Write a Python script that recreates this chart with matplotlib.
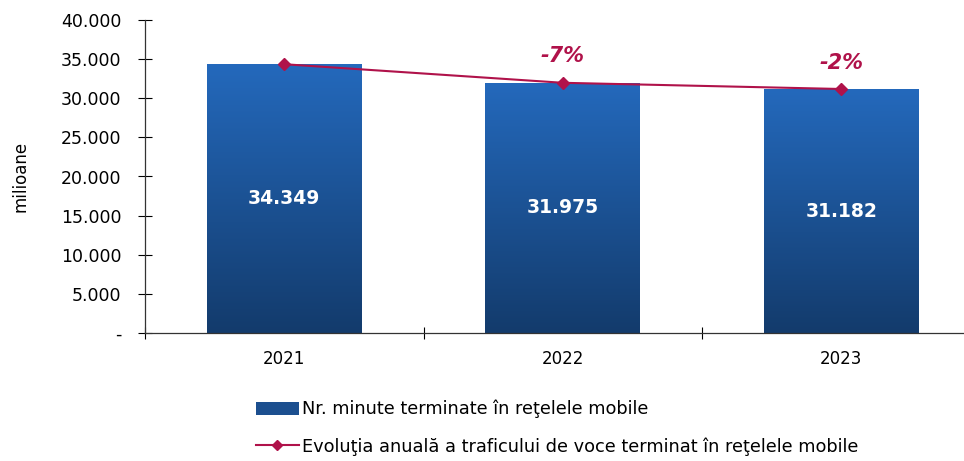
import numpy as np
import matplotlib.pyplot as plt
from matplotlib.patches import Rectangle, Patch
from matplotlib.lines import Line2D
from matplotlib.colors import LinearSegmentedColormap
from matplotlib.ticker import FuncFormatter

years = ["2021", "2022", "2023"]
minute = [34349, 31975, 31182]
value_labels = ["34.349", "31.975", "31.182"]
pct_labels = ["", "-7%", "-2%"]

bar_label = "Nr. minute terminate în reţelele mobile"
line_label = "Evoluţia anuală a traficului de voce terminat în reţelele mobile"

line_color = "#B0124A"
grad = LinearSegmentedColormap.from_list("g", ["#133B6C", "#2469BC"])

plt.rcParams['font.family'] = ['DejaVu Sans']

fig = plt.figure(figsize=(9.64, 4.61), dpi=100)
ax = fig.add_axes([145 / 964, 1 - 333 / 461, 835.5 / 964, 313 / 461])

x = np.arange(len(years))
width = 0.556
bars = ax.bar(x, minute, width=width, color="none", edgecolor="none", zorder=2)

# gradient fill for each bar
g = np.linspace(0, 1, 256).reshape(-1, 1)
for b in bars:
    x0, y0 = b.get_x(), b.get_y()
    w, h = b.get_width(), b.get_height()
    im = ax.imshow(g, cmap=grad, aspect="auto", origin="lower",
                   extent=[x0, x0 + w, y0, y0 + h], zorder=2)
    clip = Rectangle((x0, y0), w, h, transform=ax.transData)
    im.set_clip_path(clip)

for i, v in enumerate(minute):
    ax.text(x[i], v / 2, value_labels[i], color="white", fontsize=13.5,
            fontweight="bold", ha="center", va="center", zorder=4)

ax.plot(x, minute, color=line_color, lw=1.5, marker="D", markersize=6, zorder=3)

for i, lab in enumerate(pct_labels):
    if lab:
        ax.annotate(lab, (x[i], minute[i]), xytext=(0, 19), textcoords="offset points",
                    ha="center", va="center", fontsize=15, fontweight="bold",
                    fontstyle="italic", color=line_color)

ax.set_xlim(-0.5, 2.5)
ax.set_ylim(0, 40000)
ax.set_yticks(np.arange(0, 40001, 5000))
ax.yaxis.set_major_formatter(FuncFormatter(
    lambda v, p: "-" if v == 0 else f"{int(v):,}".replace(",", ".")))
ax.set_xticks(x)
ax.set_xticklabels(years)
ax.set_xticks([-0.5, 0.5, 1.5, 2.5], minor=True)
ax.tick_params(axis="x", which="major", length=0, labelsize=12, pad=12)
ax.tick_params(axis="x", which="minor", length=9, direction="inout", width=0.8)
ax.tick_params(axis="y", length=10, direction="inout", labelsize=12.5, pad=12, width=0.8)

for s in ["top", "right"]:
    ax.spines[s].set_visible(False)
for s in ["left", "bottom"]:
    ax.spines[s].set_color("#333333")
    ax.spines[s].set_linewidth(0.9)

ax.set_ylabel("milioane", fontsize=12)
ax.yaxis.set_label_coords(-0.138, 0.5)

handles = [Patch(facecolor="#1C4F8F", edgecolor="none"),
           Line2D([0], [0], color=line_color, lw=1.5, marker="D", markersize=5)]
fig.legend(handles, [bar_label, line_label], loc="upper left",
           bbox_to_anchor=(240 / 964, 1 - 384 / 461), frameon=False,
           fontsize=12.8, handlelength=2.4, handleheight=0.8, handletextpad=0.2,
           labelspacing=1.05)

fig.savefig("out.png", dpi=100)
